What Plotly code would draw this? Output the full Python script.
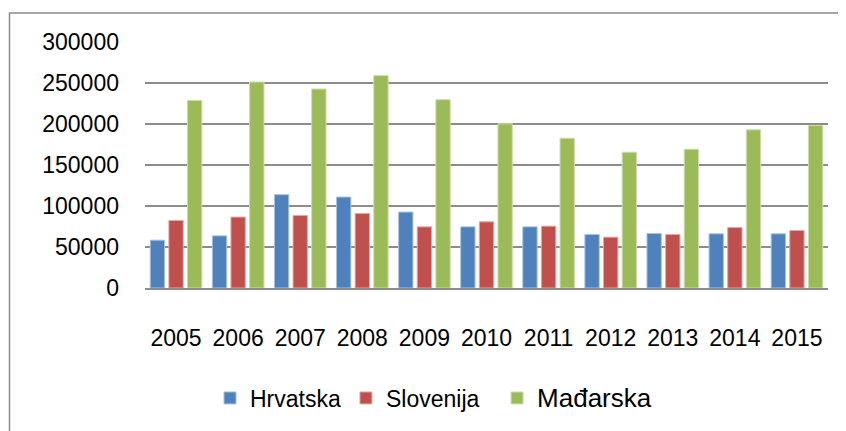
import plotly.graph_objects as go

years = ["2005", "2006", "2007", "2008", "2009", "2010", "2011", "2012", "2013", "2014", "2015"]
hrvatska = [58300, 63600, 113800, 110900, 92600, 74600, 74600, 65200, 66500, 66100, 66100]
slovenija = [82400, 86500, 88500, 90900, 74600, 80700, 75400, 62000, 65200, 73800, 70100]
madarska = [228800, 251200, 242700, 259000, 229600, 200200, 182700, 165600, 169200, 192900, 198200]

names = ["Hrvatska", "Slovenija&nbsp;&nbsp;", '<span style="font-size:26px">Mađarska</span>']
colors = ["#4F81BD", "#C0504D", "#9BBB59"]
edges = ["#a9c1df", "#dfa9a7", "#cddcab"]
series = [hrvatska, slovenija, madarska]

# page offset (default body margin)
O = 8
PW, PH = 846, 431
W, H = PW - O, PH - O
# plot area in page pixels
PL, PR, PT, PB = 145, 828, 42, 288
L, R, T, B = PL - O, PW - PR, PT - O, PH - PB

fig = go.Figure()
for n, v, c, e in zip(names, series, colors, edges):
    fig.add_trace(go.Bar(x=years, y=v, name=n, marker=dict(color=c, line=dict(color=e, width=1))))

pw = PR - PL
ph = PB - PT
def px_x(x):
    return (x - PL) / pw
def px_y(y):
    return (PB - y) / ph

fig.add_shape(type="rect", xref="paper", yref="paper",
              x0=px_x(9.5), x1=px_x(900), y0=px_y(13), y1=px_y(480),
              line=dict(color="#8a8a8a", width=1.5), fillcolor="rgba(0,0,0,0)", layer="below")

fig.update_layout(
    width=W, height=H,
    margin=dict(l=L, r=R, t=T, b=B),
    paper_bgcolor="white", plot_bgcolor="white",
    barmode="group", bargap=0.1, bargroupgap=0.23,
    font=dict(family="Liberation Sans", size=23, color="black"),
    xaxis=dict(showgrid=False, showline=True, linecolor="#8c8c8c", linewidth=2,
               ticks="", ticklabelstandoff=28, tickfont=dict(size=23)),
    yaxis=dict(range=[0, 300000], dtick=50000, tickformat="d", showgrid=True,
               gridcolor="#8c8c8c", gridwidth=2, zeroline=False, showline=False,
               ticks="", ticklabelstandoff=25, tickfont=dict(size=23)),
    legend=dict(orientation="h", x=px_x(210), xanchor="left", y=px_y(398), yanchor="middle",
                font=dict(size=23), itemwidth=30, traceorder="normal"),
    showlegend=True,
)

fig.write_html("out.html")
